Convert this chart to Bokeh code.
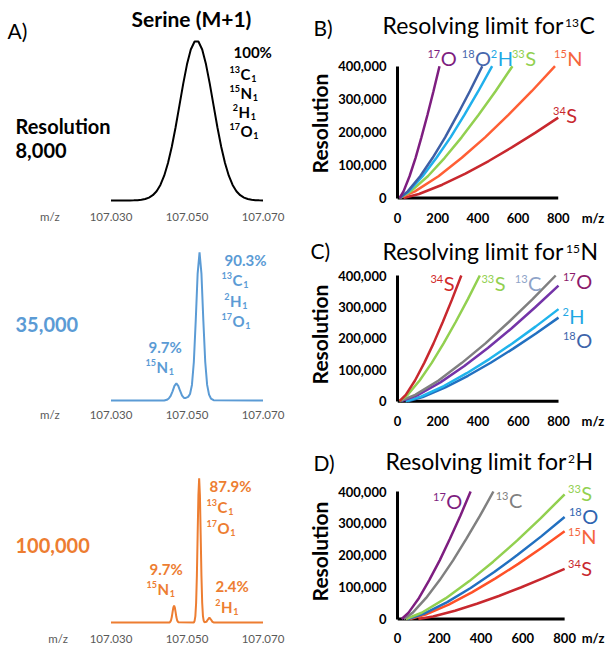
from bokeh.plotting import figure
from bokeh.models import Range1d, FixedTicker, NumeralTickFormatter, Label
from bokeh.layouts import row, column
from bokeh.embed import file_html
from bokeh.resources import INLINE

FONT = "Lato"

# ---------------- data: panel A spectra (Serine M+1) ----------------
spec_ticks = [107.030, 107.050, 107.070]

mz_8k = [107.030, 107.031, 107.032, 107.033, 107.034, 107.035, 107.036, 107.037,
         107.038, 107.039, 107.040, 107.041, 107.042, 107.043, 107.044, 107.045,
         107.046, 107.047, 107.048, 107.049, 107.050, 107.051, 107.052, 107.053,
         107.054, 107.055, 107.056, 107.057, 107.058, 107.059, 107.060, 107.061,
         107.062, 107.063, 107.064, 107.065, 107.066, 107.067, 107.068, 107.069,
         107.070]
int_8k = [0, 0, 0, 0.01, 0.02, 0.04, 0.09, 0.2, 0.44, 0.9, 1.8, 3.3, 5.8, 9.7,
          15.5, 23.4, 33.6, 45.8, 59.3, 72.9, 85.1, 94.4, 99.4, 99.4, 94.4, 85.1,
          72.9, 59.3, 45.8, 33.6, 23.4, 15.5, 9.7, 5.8, 3.3, 1.8, 0.9, 0.44, 0.2,
          0.09, 0.04]

mz_35k = [107.030, 107.0440, 107.0447, 107.0452, 107.0457, 107.0462, 107.0467,
          107.0472, 107.0477, 107.0482, 107.0487, 107.0492, 107.0497, 107.0503,
          107.0508, 107.0513, 107.0518, 107.0523, 107.0528, 107.0533, 107.0538,
          107.0543, 107.0548, 107.0553, 107.0558, 107.0563, 107.0570, 107.070]
int_35k = [0, 0, 0.4, 1.2, 2.8, 5.6, 8.9, 10.4, 8.9, 5.8, 3.0, 1.6, 1.6, 2.2,
           4.0, 9.5, 23.5, 48.8, 77.4, 90.3, 77.4, 48.8, 23.5, 9.5, 3.6, 1.2,
           0.2, 0]

mz_100k = [107.030, 107.0454, 107.0456, 107.0458, 107.0460, 107.0462, 107.0464,
           107.0466, 107.0468, 107.0470, 107.0472, 107.0474, 107.0476, 107.0478,
           107.0518, 107.0520, 107.0522, 107.0524, 107.0526, 107.0528, 107.0530,
           107.0532, 107.0534, 107.0536, 107.0538, 107.0540, 107.0542, 107.0544,
           107.0546, 107.0551, 107.0555, 107.0559, 107.0563, 107.0567, 107.0571,
           107.070]
int_100k = [0, 0, 0.45, 1.4, 3.3, 6.3, 9.1, 10.3, 9.1, 6.3, 3.3, 1.4, 0.45, 0.1,
            0, 1.0, 3.9, 11.9, 28.6, 53.4, 77.5, 87.9, 77.5, 53.4, 28.6, 11.9,
            3.9, 1.0, 0.2, 0.4, 1.8, 3.0, 1.8, 0.4, 0, 0]

# ---------------- data: resolving-limit curves ----------------
mz_ticks = [0, 200, 400, 600, 800]
res_ticks = [0, 100000, 200000, 300000, 400000]
res_to_400k = [0, 20000, 66000, 122000, 184000, 252000, 324000, 400000]

# B) 13C
b_17O_mz = [10, 30, 60, 90, 119, 149, 179, 209]
b_18O_mz = [10, 51, 113, 175, 237, 298, 360, 422]
b_2H_mz = [10, 56, 125, 194, 264, 333, 402, 471]
b_33S_mz = [10, 66, 151, 235, 319, 403, 488, 572]
b_15N_mz = [10, 87, 204, 320, 436, 552, 668, 784]
b_34S_mz = [30, 107, 223, 338, 454, 569, 685, 800]
b_34S_res = [0, 12200, 40300, 74200, 112200, 153500, 197600, 244000]

# C) 15N
c_34S_mz = [10, 41, 87, 133, 179, 225, 271, 317]
c_33S_mz = [10, 50, 110, 170, 229, 289, 349, 409]
c_13C_mz = [10, 88, 204, 320, 437, 553, 670, 786]
c_17O_mz = [20, 98, 215, 332, 449, 566, 683, 800]
c_17O_res = [0, 18400, 60700, 111900, 169300, 231500, 298100, 368000]
c_2H_mz = [40, 116, 230, 344, 458, 572, 686, 800]
c_2H_res = [0, 14700, 48300, 89100, 134800, 184300, 237300, 293000]
c_18O_mz = [50, 125, 238, 350, 463, 575, 688, 800]
c_18O_res = [0, 13300, 43900, 80900, 122400, 167300, 215500, 266000]

# D) 2H
d_17O_mz = [20, 53, 103, 152, 202, 251, 301, 350]
d_13C_mz = [30, 73, 137, 202, 266, 330, 395, 459]
d_33S_mz = [40, 116, 230, 344, 458, 572, 686, 800]
d_33S_res = [0, 19600, 64500, 118900, 179900, 245900, 316700, 391000]
d_18O_mz = [50, 125, 238, 350, 463, 575, 688, 800]
d_18O_res = [0, 16000, 52800, 97300, 147200, 201300, 259200, 320000]
d_15N_mz = [60, 134, 245, 356, 467, 578, 689, 800]
d_15N_res = [0, 13800, 45400, 83600, 126500, 173000, 222800, 275000]
d_34S_mz = [100, 170, 275, 380, 485, 590, 695, 800]
d_34S_res = [0, 7900, 25900, 47700, 72200, 98800, 127200, 157000]

BLACK = "#000000"
BLUE = "#5B9BD5"
ORANGE = "#ED7D31"

# approximate advance widths (em) of symbols, for subscript placement
EMW = {"C": 0.68, "N": 0.78, "H": 0.78, "O": 0.82, "S": 0.54}


class Panel:
    """A figure together with a linear map from page pixels to its data space."""

    def __init__(self, cx, cy, w, h, bl, br, bt, bb, xcal, ycal, **kw):
        self.xcal, self.ycal = xcal, ycal
        fl, fr, ft, fb = cx + bl, cx + w - br, cy + bt, cy + h - bb
        self.fig = figure(width=w, height=h, min_border_left=bl, min_border_right=br,
                          min_border_top=bt, min_border_bottom=bb,
                          x_range=Range1d(self.X(fl), self.X(fr)),
                          y_range=Range1d(self.Y(fb), self.Y(ft)),
                          title=None, frame_align=False,
                          toolbar_location=None, tools="", output_backend="svg", **kw)
        self.fig.grid.visible = False
        self.fig.outline_line_color = None

    def X(self, px):
        v0, p0, v1, p1 = self.xcal
        return v0 + (px - p0) * (v1 - v0) / (p1 - p0)

    def Y(self, py):
        v0, p0, v1, p1 = self.ycal
        return v0 + (py - p0) * (v1 - v0) / (p1 - p0)

    def text(self, px, py, s, size, color, bold=False, align="left"):
        # py is the wanted baseline; anchor the text box at its middle
        self.fig.add_layout(Label(
            x=self.X(px), y=self.Y(py - 0.40 * size), text=s, text_font=FONT,
            text_font_size=f"{size}px", text_color=color,
            text_font_style="bold" if bold else "normal",
            text_align=align, text_baseline="middle"))

    def iso(self, px, py, sup, main, color, size, ss, rise, bold=False, sub=None):
        self.text(px - 0.5, py - rise, sup, ss, color, bold, align="right")
        self.text(px, py, main, size, color, bold)
        if sub:
            self.text(px + EMW[main] * size + 0.5, py + 3, sub, ss, color, bold)


def style_ticks(ax):
    ax.major_tick_out = 0
    ax.major_tick_in = 0
    ax.major_tick_line_color = None
    ax.minor_tick_line_color = None
    ax.major_label_text_font = FONT


# ---------------- A) spectra ----------------
def spec_panel(cy, h, bb, ycal, mz_px, standoff):
    P = Panel(0, cy, 304, h, 0, 0, 0, bb, (107.030, 110.5, 107.070, 262.5), ycal,
              y_axis_location=None)
    ax = P.fig.xaxis[0]
    mz_tick = round(P.X(mz_px), 4)
    ax.ticker = FixedTicker(ticks=[mz_tick] + spec_ticks)
    ax.formatter = NumeralTickFormatter(format="0.000")
    ax.major_label_overrides = {mz_tick: "m/z"}
    ax.axis_line_color = None
    style_ticks(ax)
    ax.major_label_text_font_size = "11.5px"
    ax.major_label_text_color = "#595959"
    ax.major_label_standoff = standoff
    return P


def left_iso(P, px, py, sup, main, color):
    P.iso(px, py, sup, main, color, 15, 9, 6.5, True, "1")


A1 = spec_panel(0, 228, 26, (0, 200, 100, 40), 49.5, 7)
A1.fig.line(mz_8k, int_8k, line_width=2, color=BLACK)
A1.text(7, 38, "A)", 21, BLACK)
A1.text(191, 26, "Serine (M+1)", 21, BLACK, bold=True, align="center")
A1.text(233, 57, "100%", 15, BLACK, bold=True)
left_iso(A1, 240, 79, "13", "C", BLACK)
left_iso(A1, 240, 98, "15", "N", BLACK)
left_iso(A1, 238, 117, "2", "H", BLACK)
left_iso(A1, 240, 136, "17", "O", BLACK)
A1.text(15, 133, "Resolution", 20, BLACK, bold=True)
A1.text(15, 158, "8,000", 20, BLACK, bold=True)

A2 = spec_panel(228, 200, 26, (0, 400, 100, 236), 49.5, 5)
A2.fig.line(mz_35k, int_35k, line_width=2, color=BLUE)
A2.text(15, 332, "35,000", 20, BLUE, bold=True)
A2.text(224, 265, "90.3%", 15, BLUE, bold=True)
left_iso(A2, 232, 285, "13", "C", BLUE)
left_iso(A2, 229.5, 306, "2", "H", BLUE)
left_iso(A2, 232, 326, "17", "O", BLUE)
A2.text(148, 352, "9.7%", 15, BLUE, bold=True)
left_iso(A2, 156, 372, "15", "N", BLUE)

A3 = spec_panel(428, 224, 28, (0, 622, 100, 458), 57.5, 7)
A3.fig.line(mz_100k, int_100k, line_width=2, color=ORANGE)
A3.text(15, 553, "100,000", 20, ORANGE, bold=True)
A3.text(209, 491, "87.9%", 15, ORANGE, bold=True)
left_iso(A3, 217, 512, "13", "C", ORANGE)
left_iso(A3, 217, 533, "17", "O", ORANGE)
A3.text(149, 574, "9.7%", 15, ORANGE, bold=True)
left_iso(A3, 157, 594, "15", "N", ORANGE)
A3.text(215, 591, "2.4%", 15, ORANGE, bold=True)
left_iso(A3, 220.5, 612, "2", "H", ORANGE)


# ---------------- B/C/D) resolving limits ----------------
def header(cy, h, letter, lx, ly, tx, ty, sup, sym, sx):
    P = Panel(304, cy, 309, h, 0, 0, 0, 0, (0, 304, 1, 305), (0, cy, 1, cy + 1),
              x_axis_location=None, y_axis_location=None)
    P.text(lx, ly, letter, 21, BLACK)
    P.text(tx, ty, "Resolving limit for", 23, BLACK)
    P.iso(sx, ty, sup, sym, BLACK, 23, 12, 6.5)
    return P


def chart(cy, h, bl, bb, xcal, ycal, standoff):
    P = Panel(304, cy, 309, h, bl, 0, 0, bb, xcal, ycal)
    p = P.fig
    mz_label = round(P.X(592))
    p.xaxis.ticker = FixedTicker(ticks=mz_ticks + [mz_label])
    p.xaxis.major_label_overrides = {mz_label: "m/z"}
    p.xaxis.axis_line_color = None
    p.xaxis.major_label_standoff = standoff
    p.yaxis.ticker = FixedTicker(ticks=res_ticks)
    p.yaxis.formatter = NumeralTickFormatter(format="0,0")
    p.yaxis.bounds = (res_ticks[0], res_ticks[-1])
    p.yaxis.axis_line_color = BLACK
    p.yaxis.axis_line_width = 3
    p.yaxis.major_label_standoff = 11
    p.yaxis.axis_label = "Resolution"
    p.yaxis.axis_label_text_font = FONT
    p.yaxis.axis_label_text_font_size = "21px"
    p.yaxis.axis_label_text_font_style = "bold"
    p.yaxis.axis_label_text_color = BLACK
    p.yaxis.axis_label_standoff = 3
    for ax in (p.xaxis[0], p.yaxis[0]):
        style_ticks(ax)
        ax.major_label_text_font_size = "13px"
        ax.major_label_text_font_style = "bold"
        ax.major_label_text_color = BLACK
    # x axis line limited to the plotted m/z span
    p.line([mz_ticks[0], mz_ticks[-1]], [res_ticks[0], res_ticks[0]], line_width=3,
           color=BLACK)
    return P


def elem(P, px, py, sup, main, color):
    P.iso(px, py, sup, main, color, 20, 11, 7.5)


HB = header(0, 46, "B)", 313, 35, 382, 34, "13", "C", 579)
B = chart(46, 182, 89, 28, (0, 393, 800, 556.7), (0, 197.5, 400000, 65.7), 9)
for mz, rs, col in [(b_34S_mz, b_34S_res, "#C8282E"), (b_15N_mz, res_to_400k, "#FF5F35"),
                    (b_33S_mz, res_to_400k, "#92D050"), (b_2H_mz, res_to_400k, "#20B0EC"),
                    (b_18O_mz, res_to_400k, "#3E5FA6"), (b_17O_mz, res_to_400k, "#7E1E80")]:
    B.fig.line(mz, rs, line_width=2.5, color=col)
elem(B, 437, 65, "17", "O", "#7E1E80")
elem(B, 472, 65, "18", "O", "#4767AD")
elem(B, 495, 65, "2", "H", "#1EA7E4")
elem(B, 523, 65, "33", "S", "#92D050")
elem(B, 566, 65, "15", "N", "#F5653C")
elem(B, 565, 122, "34", "S", "#C8282E")

HC = header(228, 37, "C)", 310, 258, 382, 260, "15", "N", 580)
C = chart(265, 173, 89, 35, (0, 393, 800, 557), (0, 400.7, 400000, 275), 9)
for mz, rs, col in [(c_18O_mz, c_18O_res, "#2270C0"), (c_2H_mz, c_2H_res, "#20B4EC"),
                    (c_17O_mz, c_17O_res, "#7434A8"), (c_13C_mz, res_to_400k, "#808080"),
                    (c_33S_mz, res_to_400k, "#92D050"), (c_34S_mz, res_to_400k, "#C8282E")]:
    C.fig.line(mz, rs, line_width=2.5, color=col)
elem(C, 440, 290, "34", "S", "#D12A2A")
elem(C, 492, 290, "33", "S", "#92D050")
elem(C, 526, 290, "13", "C", "#8EA3C8")
elem(C, 575, 288, "17", "O", "#8B1A6B")
elem(C, 568, 323, "2", "H", "#1EA7E4")
elem(C, 575, 347, "18", "O", "#3D64AA")

HD = header(438, 43, "D)", 313, 470, 385, 470, "2", "H", 575)
D = chart(481, 171, 88, 31, (0, 392, 800, 563), (0, 618.5, 400000, 491), 8)
for mz, rs, col in [(d_34S_mz, d_34S_res, "#C8282E"), (d_15N_mz, d_15N_res, "#FF5128"),
                    (d_18O_mz, d_18O_res, "#2270C0"), (d_33S_mz, d_33S_res, "#92D050"),
                    (d_13C_mz, res_to_400k, "#808080"), (d_17O_mz, res_to_400k, "#7E1E80")]:
    D.fig.line(mz, rs, line_width=2.5, color=col)
elem(D, 442, 508, "17", "O", "#7E1E80")
elem(D, 506, 507, "13", "C", "#7F7F7F")
elem(D, 580, 500, "33", "S", "#92D050")
elem(D, 581, 523, "18", "O", "#2F64B0")
elem(D, 580, 543, "15", "N", "#F5653C")
elem(D, 580, 575, "34", "S", "#C8282E")

layout = row(column(A1.fig, A2.fig, A3.fig),
             column(HB.fig, B.fig, HC.fig, C.fig, HD.fig, D.fig))
open("out.html", "w").write(file_html(layout, INLINE))
